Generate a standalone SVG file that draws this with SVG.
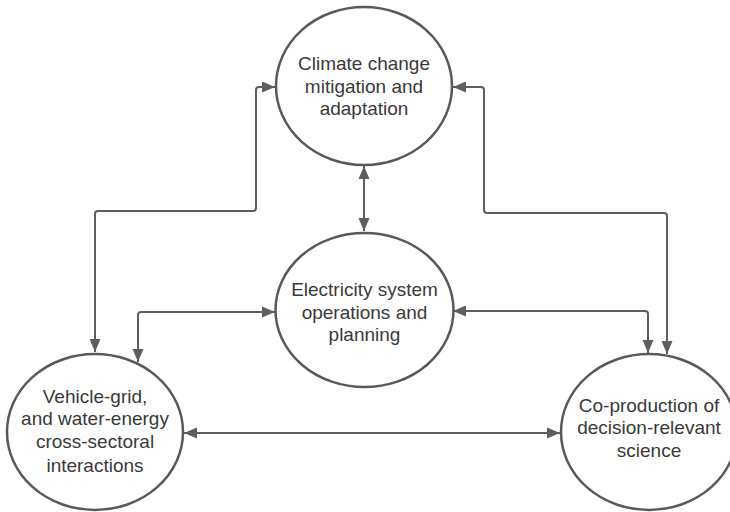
<svg xmlns="http://www.w3.org/2000/svg" width="730" height="512" viewBox="0 0 730 512">
<style>
.node ellipse{fill:#ffffff;stroke:#595959;stroke-width:2.5}
.node text{font-family:"Liberation Sans",Arial,sans-serif;font-size:19px;fill:#3a3a3a;text-anchor:middle}
.conn path{fill:none;stroke:#5e5e5e;stroke-width:2;marker-start:url(#ah);marker-end:url(#ah)}
</style>
<defs>
<marker id="ah" markerUnits="userSpaceOnUse" markerWidth="14" markerHeight="12" refX="13" refY="5.5" orient="auto-start-reverse" viewBox="0 0 14 11">
<path d="M0,0 L13,5.5 L0,11 z" fill="#5e5e5e"/>
</marker>
</defs>
<rect width="730" height="512" fill="#ffffff"/>
<g class="conn" id="connectors">
<path d="M364,166 V231"/>
<path d="M275,87 H259 Q256,87 256,90 V208 Q256,211 253,211 H98 Q95,211 95,214 V352"/>
<path d="M453,87 H481 Q484,87 484,90 V210 Q484,213 487,213 H664 Q667,213 667,216 V354"/>
<path d="M275,312 H141 Q138,312 138,315 V362"/>
<path d="M453,311 H645 Q648,311 648,314 V353"/>
<path d="M184,433 H560"/>
</g>
<g class="node" id="climate">
<ellipse cx="364" cy="86" rx="88" ry="79"/>
<text x="364" y="70">Climate change</text>
<text x="364" y="93">mitigation and</text>
<text x="364" y="115">adaptation</text>
</g>
<g class="node" id="electricity">
<ellipse cx="364.5" cy="310" rx="89" ry="77"/>
<text x="364.5" y="296">Electricity system</text>
<text x="364.5" y="318.5">operations and</text>
<text x="364.5" y="341">planning</text>
</g>
<g class="node" id="vehicle">
<ellipse cx="95" cy="432" rx="88" ry="78"/>
<text x="95" y="403">Vehicle-grid,</text>
<text x="95" y="425">and water-energy</text>
<text x="95" y="448">cross-sectoral</text>
<text x="95" y="472">interactions</text>
</g>
<g class="node" id="coproduction">
<ellipse cx="649" cy="432" rx="88" ry="78"/>
<text x="649" y="412">Co-production of</text>
<text x="649" y="434">decision-relevant</text>
<text x="649" y="457">science</text>
</g>
</svg>
